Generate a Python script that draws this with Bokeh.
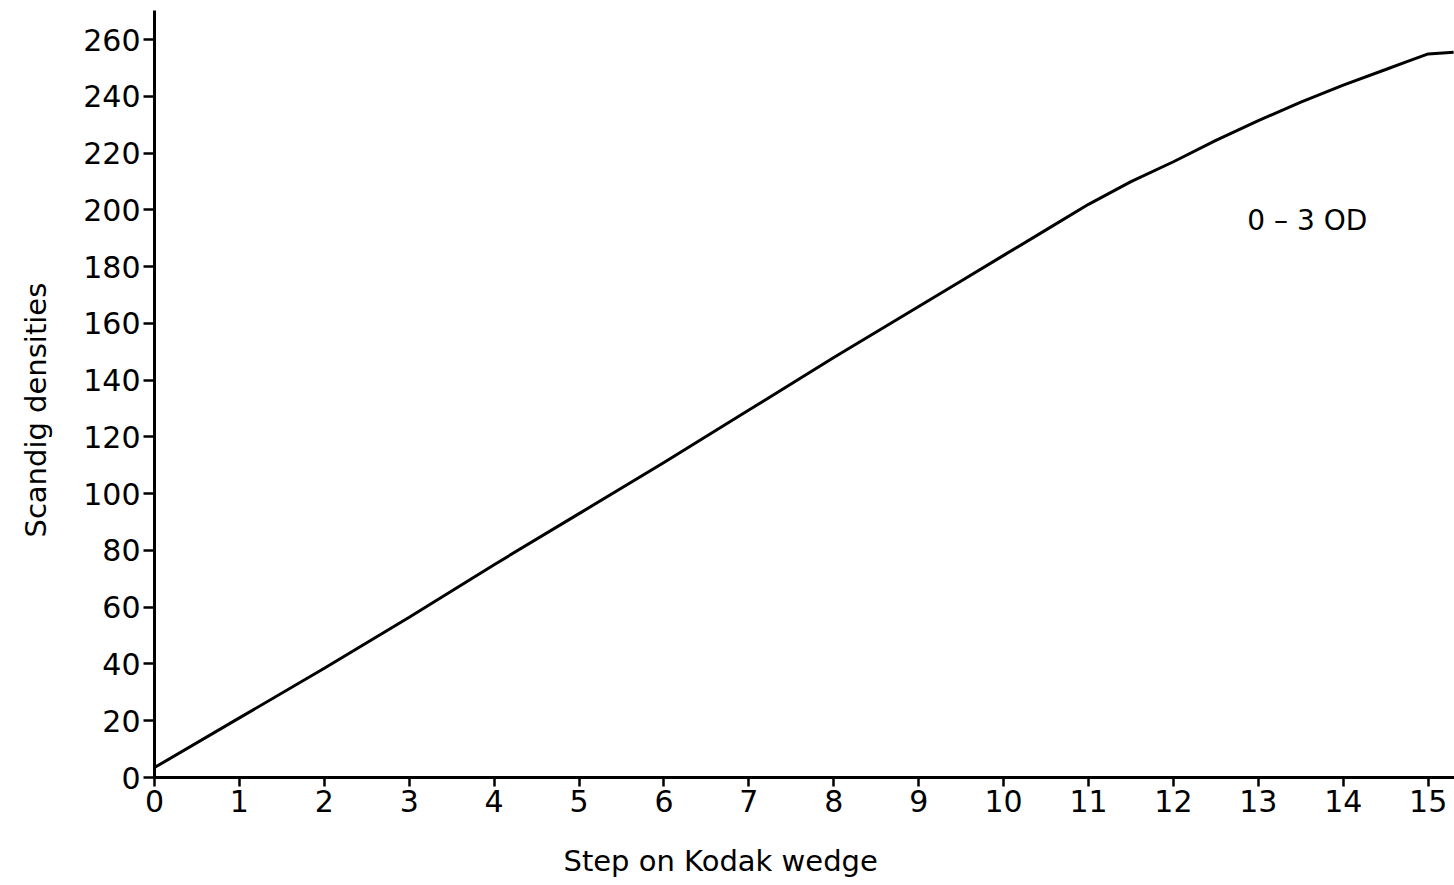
from bokeh.plotting import figure
from bokeh.models import Range1d, Label, FixedTicker, Title
from bokeh.embed import file_html
from bokeh.resources import INLINE

# Calibration curve: scanner density reading per step of the Kodak wedge
steps = [0, 1, 2, 3, 4, 5, 6, 7, 8, 9, 9.5, 10, 10.5, 11, 11.5, 12, 12.5,
         13, 13.5, 14, 14.5, 14.75, 15, 15.3]
densities = [3.5, 21, 38.5, 56.5, 75, 93, 111, 129.5, 148, 166, 175, 184,
             193, 202, 210, 217, 224.5, 231.5, 238, 244, 249.5, 252.3, 255, 255.6]

x_ticks = list(range(0, 16))
y_ticks = list(range(0, 261, 20))

FONT = "DejaVu Sans"

p = figure(width=1454, height=885, output_backend="svg", toolbar_location=None,
           x_range=Range1d(0, 15.31), y_range=Range1d(0, 270.3),
           min_border_left=154, min_border_right=0, min_border_top=10,
           min_border_bottom=108)
p.outline_line_color = None
p.grid.visible = False
p.background_fill_color = "white"
p.border_fill_color = "white"

p.line(steps, densities, line_color="black", line_width=3)

for ax, ticks, tick_len, gap in ((p.xaxis[0], x_ticks, 9, 18),
                                 (p.yaxis[0], y_ticks, 11, 19)):
    ax.ticker = FixedTicker(ticks=ticks)
    ax.axis_line_width = 3
    ax.axis_line_color = "black"
    ax.major_tick_line_width = 2.5
    ax.major_tick_line_color = "black"
    ax.major_tick_in = 0
    ax.major_tick_out = tick_len
    ax.minor_tick_line_color = None
    ax.major_label_text_font = FONT
    ax.major_label_text_font_size = "30px"
    ax.major_label_text_color = "black"
    ax.major_label_standoff = 3
    # blank spacer between the tick labels and the axis title
    ax.axis_label = " "
    ax.axis_label_text_font_size = "1px"
    ax.axis_label_standoff = gap

# Axis titles
p.add_layout(Title(text="Step on Kodak wedge", align="left", offset=409,
                   text_font=FONT, text_font_size="29px",
                   text_font_style="normal", text_color="black"), "below")
p.add_layout(Title(text="Scandig densities", align="left", offset=240,
                   text_font=FONT, text_font_size="29px",
                   text_font_style="normal", text_color="black"), "left")

# Curve annotation
p.add_layout(Label(x=12.87, y=196.3, text="0 \u2013 3 OD", text_align="left",
                   text_baseline="middle", text_font=FONT, text_font_size="28px",
                   text_color="black"))

open("out.html", "w").write(file_html(p, INLINE))
